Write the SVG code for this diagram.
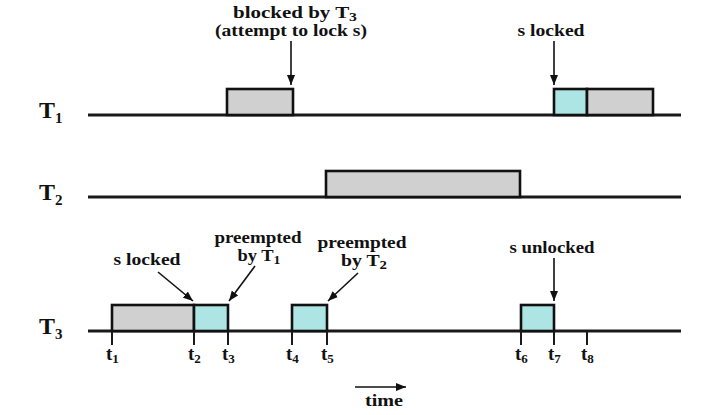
<svg xmlns="http://www.w3.org/2000/svg" width="716" height="415" viewBox="0 0 716 415">
  <style>
    .axis { stroke: #1a1a1a; stroke-width: 3; fill: none; }
    .tick { stroke: #1a1a1a; stroke-width: 2; }
    .run { fill: #d0d0d0; stroke: #111; stroke-width: 2.6; }
    .crit { fill: #ade4e4; stroke: #111; stroke-width: 2.6; }
    .conn { stroke: #111; stroke-width: 1.6; fill: none; marker-end: url(#ah); }
    .lbl { font-family: "Liberation Serif", "Times New Roman", serif; font-weight: bold; font-size: 16px; fill: #111; text-anchor: middle; }
    .big { font-family: "Liberation Serif", "Times New Roman", serif; font-weight: bold; font-size: 24px; fill: #111; }
    .tl { font-family: "Liberation Serif", "Times New Roman", serif; font-weight: bold; font-size: 19px; fill: #111; }
  </style>
  <defs>
    <marker id="ah" markerUnits="userSpaceOnUse" markerWidth="10" markerHeight="8" refX="10" refY="4" orient="auto">
      <path d="M0,0 L10,4 L0,8 z" fill="#111"/>
    </marker>
  </defs>
  <rect width="716" height="415" fill="#fff"/>

  <g id="T1">
    <line class="axis" x1="88" y1="115" x2="681" y2="115"/>
    <rect class="run" x="227" y="89" width="66" height="26"/>
    <rect class="crit" x="554" y="89" width="33" height="26"/>
    <rect class="run" x="587" y="89" width="66" height="26"/>
    <text class="big" x="39" y="118">T<tspan font-size="15" dy="5">1</tspan></text>
  </g>

  <g id="T2">
    <line class="axis" x1="88" y1="197" x2="681" y2="197"/>
    <rect class="run" x="326" y="171" width="194" height="26"/>
    <text class="big" x="39" y="200">T<tspan font-size="15" dy="5">2</tspan></text>
  </g>

  <g id="T3">
    <line class="axis" x1="88" y1="331" x2="681" y2="331"/>
    <rect class="run" x="112" y="305" width="82" height="26"/>
    <rect class="crit" x="194" y="305" width="34" height="26"/>
    <rect class="crit" x="292" y="305" width="35" height="26"/>
    <rect class="crit" x="521" y="305" width="33" height="26"/>
    <text class="big" x="39" y="334">T<tspan font-size="15" dy="5">3</tspan></text>
  </g>

  <g id="ticks">
    <line class="tick" x1="112" y1="331" x2="112" y2="345"/>
    <line class="tick" x1="194" y1="331" x2="194" y2="345"/>
    <line class="tick" x1="228" y1="331" x2="228" y2="345"/>
    <line class="tick" x1="292" y1="331" x2="292" y2="345"/>
    <line class="tick" x1="327" y1="331" x2="327" y2="345"/>
    <line class="tick" x1="521" y1="331" x2="521" y2="345"/>
    <line class="tick" x1="554" y1="331" x2="554" y2="345"/>
    <line class="tick" x1="587" y1="331" x2="587" y2="345"/>
  </g>

  <g id="time-labels">
    <text class="tl" x="106" y="360">t<tspan font-size="13" dy="3">1</tspan></text>
    <text class="tl" x="188" y="360">t<tspan font-size="13" dy="3">2</tspan></text>
    <text class="tl" x="222" y="360">t<tspan font-size="13" dy="3">3</tspan></text>
    <text class="tl" x="286" y="360">t<tspan font-size="13" dy="3">4</tspan></text>
    <text class="tl" x="321" y="360">t<tspan font-size="13" dy="3">5</tspan></text>
    <text class="tl" x="515" y="360">t<tspan font-size="13" dy="3">6</tspan></text>
    <text class="tl" x="548" y="360">t<tspan font-size="13" dy="3">7</tspan></text>
    <text class="tl" x="581" y="360">t<tspan font-size="13" dy="3">8</tspan></text>
  </g>

  <g id="annotations">
    <text class="lbl" x="295" y="18" textLength="124" lengthAdjust="spacingAndGlyphs">blocked by T<tspan font-size="12" dy="3">3</tspan></text>
    <text class="lbl" x="291" y="36" textLength="152" lengthAdjust="spacingAndGlyphs">(attempt to lock s)</text>
    <text class="lbl" x="551" y="36" textLength="67" lengthAdjust="spacingAndGlyphs">s locked</text>
    <text class="lbl" x="147" y="265" textLength="67" lengthAdjust="spacingAndGlyphs">s locked</text>
    <text class="lbl" x="258" y="243" textLength="87" lengthAdjust="spacingAndGlyphs">preempted</text>
    <text class="lbl" x="259" y="261" textLength="43" lengthAdjust="spacingAndGlyphs">by T<tspan font-size="12" dy="3">1</tspan></text>
    <text class="lbl" x="362" y="248" textLength="89" lengthAdjust="spacingAndGlyphs">preempted</text>
    <text class="lbl" x="364" y="266" textLength="46" lengthAdjust="spacingAndGlyphs">by T<tspan font-size="12" dy="3">2</tspan></text>
    <text class="lbl" x="552" y="253" textLength="85" lengthAdjust="spacingAndGlyphs">s unlocked</text>
    <text class="lbl" x="384" y="406" textLength="38" lengthAdjust="spacingAndGlyphs">time</text>
  </g>

  <g id="connectors">
    <line class="conn" x1="291" y1="41" x2="291" y2="85"/>
    <line class="conn" x1="554" y1="41" x2="554" y2="85"/>
    <line class="conn" x1="158" y1="272" x2="193" y2="301"/>
    <line class="conn" x1="255" y1="266" x2="229" y2="301"/>
    <line class="conn" x1="358" y1="273" x2="328" y2="301"/>
    <line class="conn" x1="554" y1="258" x2="554" y2="301"/>
    <line class="conn" x1="355" y1="387" x2="406" y2="387"/>
  </g>
</svg>
